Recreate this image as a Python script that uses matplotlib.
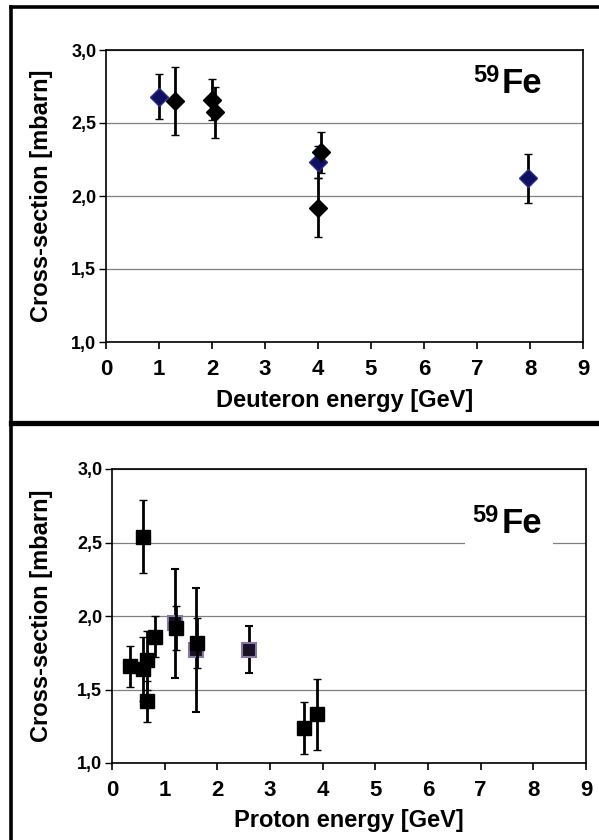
import matplotlib
matplotlib.use("Agg")
import matplotlib.pyplot as plt
from matplotlib.lines import Line2D
from matplotlib.patches import Rectangle

plt.rcParams['font.family'] = ['Liberation Sans', 'DejaVu Sans']
plt.rcParams['font.weight'] = 'bold'

# ---- data: deuteron ----
deut_x_blue = [1.0, 4.0, 7.97]
deut_y_blue = [2.68, 2.23, 2.12]
deut_e_blue = [0.155, 0.11, 0.17]
deut_x_black = [1.3, 2.0, 2.05, 4.05, 4.0]
deut_y_black = [2.65, 2.66, 2.575, 2.30, 1.92]
deut_e_black = [0.235, 0.14, 0.175, 0.14, 0.20]

# ---- data: proton ----
prot_x_purple = [1.2, 1.6, 2.6]
prot_y_purple = [1.95, 1.77, 1.77]
prot_e_purple = [0.37, 0.42, 0.16]
prot_x_black = [0.34, 0.59, 0.58, 0.66, 0.66, 0.82, 1.21, 1.61, 3.65, 3.90]
prot_y_black = [1.657, 2.54, 1.64, 1.42, 1.70, 1.86, 1.92, 1.815, 1.238, 1.33]
prot_e_black = [0.14, 0.25, 0.22, 0.14, 0.20, 0.14, 0.15, 0.17, 0.18, 0.24]

x_ticks = [0, 1, 2, 3, 4, 5, 6, 7, 8, 9]
y_ticks = [1.0, 1.5, 2.0, 2.5, 3.0]
y_ticklabels = ['1,0', '1,5', '2,0', '2,5', '3,0']

W, H = 599, 840
fig = plt.figure(figsize=(W / 100, H / 100), dpi=100)


def px_axes(l, t, r, b):
    return fig.add_axes([l / W, 1 - b / H, (r - l) / W, (b - t) / H])


def style(ax, xlabel, xlab_y, ylab_x):
    ax.set_xlim(0, 9)
    ax.set_ylim(1.0, 3.0)
    ax.set_xticks(x_ticks)
    ax.set_xticklabels([str(v) for v in x_ticks], fontsize=16, fontweight='bold')
    ax.set_yticks(y_ticks)
    ax.set_yticklabels(y_ticklabels, fontsize=13, fontweight='bold')
    ax.tick_params(axis='x', direction='out', length=5, width=1.2, pad=7)
    ax.tick_params(axis='y', direction='out', length=5, width=1.0, pad=2)
    ax.set_axisbelow(True)
    ax.yaxis.grid(True, color='#808080', lw=0.9)
    for s in ax.spines.values():
        s.set_linewidth(1.2)
        s.set_color('black')
    ax.set_xlabel(xlabel, fontsize=17, fontweight='bold')
    ax.set_ylabel('Cross-section [mbarn]', fontsize=17, fontweight='bold')
    ax.xaxis.set_label_coords(0.5, xlab_y)
    ax.yaxis.set_label_coords(ylab_x, 0.5)


def fe_label(ax, x, y_base):
    kw = dict(textcoords='offset points', fontweight='bold', va='baseline', zorder=5)
    ax.annotate('Fe', (x, y_base), xytext=(1.5, 0), fontsize=25, ha='left', **kw)
    ax.annotate('59', (x, y_base), xytext=(-0.5, 8), fontsize=17, ha='right', **kw)


eb = dict(ls='none', ecolor='black', elinewidth=2.0, capsize=3, capthick=2.0)

# ---- top panel ----
ax1 = px_axes(106, 50, 583, 342)
style(ax1, 'Deuteron energy [GeV]', -0.16, -0.111)
ax1.errorbar(deut_x_blue, deut_y_blue, yerr=deut_e_blue, marker='D', ms=9,
             mfc='#101060', mec='#2a2a90', mew=1.0, zorder=3, **eb)
ax1.errorbar(deut_x_black, deut_y_black, yerr=deut_e_black, marker='D', ms=9,
             mfc='black', mec='black', mew=1.0, zorder=3, **eb)
fe_label(ax1, 7.43, 2.705)

# ---- bottom panel ----
ax2 = px_axes(112, 469, 586, 763)
style(ax2, 'Proton energy [GeV]', -0.158, -0.124)
ax2.add_patch(Rectangle((6.70, 2.45), 1.67, 0.36, facecolor='white',
                        edgecolor='none', zorder=1))
ax2.errorbar(prot_x_purple, prot_y_purple, yerr=prot_e_purple, marker='s', ms=10.5,
             mfc='#1a1224', mec='#8878a8', mew=1.5, zorder=3, **eb)
ax2.errorbar(prot_x_black, prot_y_black, yerr=prot_e_black, marker='s', ms=10.5,
             mfc='black', mec='black', mew=1.0, zorder=4, **eb)
fe_label(ax2, 7.36, 2.565)

# ---- outer frames ----
def fline(x0, y0, x1, y1, lw):
    fig.add_artist(Line2D([x0 / W, x1 / W], [1 - y0 / H, 1 - y1 / H],
                          color='black', lw=lw, transform=fig.transFigure,
                          solid_capstyle='projecting'))

fline(11, 7, 599, 7, 2.6)
fline(11, 7, 11, 840, 2.6)
fline(11, 423, 599, 423, 3.8)

fig.savefig('out.png', dpi=100)
